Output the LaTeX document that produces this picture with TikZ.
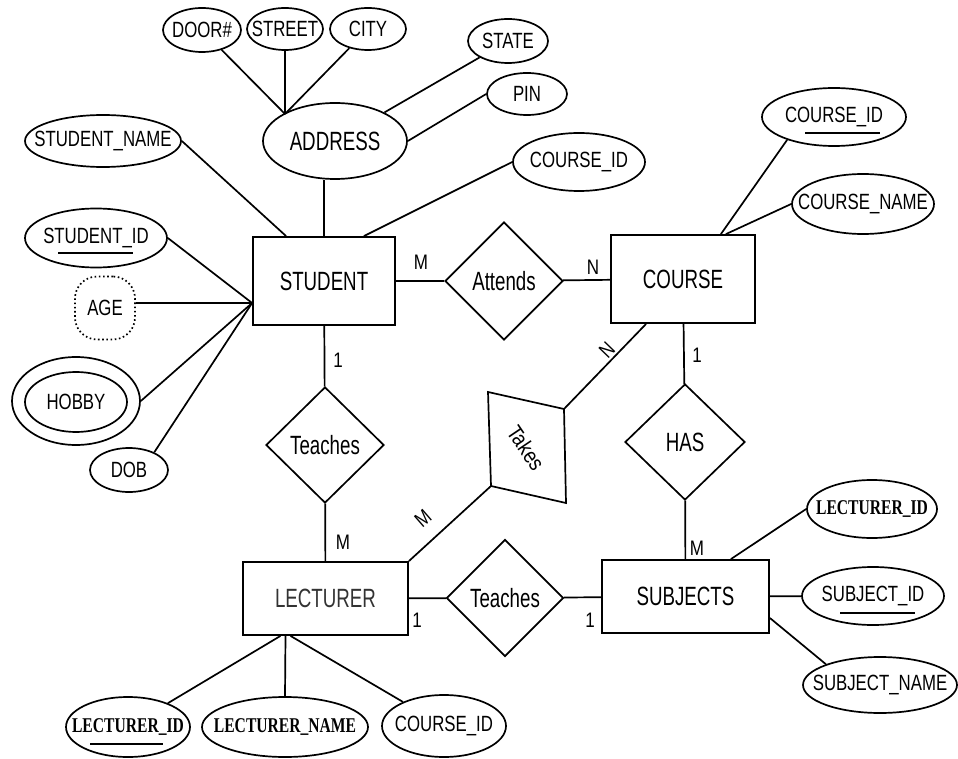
\documentclass[tikz,border=0pt]{standalone}
\usepackage{graphicx}
\usepackage{fontspec}
\setmainfont{Liberation Sans}
\newfontfamily\serifbold{Liberation Serif}
\usetikzlibrary{shapes.geometric}
\newcommand\tA[1]{\makebox[0pt]{\fontsize{21}{21}\selectfont\scalebox{0.8}[1.05]{#1}}}
\newcommand\tE[1]{\makebox[0pt]{\fontsize{24}{24}\selectfont\scalebox{0.78}[1.1]{#1}}}
\newcommand\tB[1]{\makebox[0pt]{\serifbold\bfseries\fontsize{20}{20}\selectfont\scalebox{0.78}[1.05]{#1}}}
\newcommand\tC[1]{{\fontsize{20}{20}\selectfont\scalebox{0.85}[1.05]{#1}}}
\tikzset{
  attr/.style={ellipse, draw, line width=1.7pt, inner sep=0pt},
  ent/.style={rectangle, draw, line width=1.8pt, inner sep=0pt},
  rel/.style={diamond, draw, line width=1.7pt, inner sep=0pt},
  conn/.style={line width=1.7pt},
  card/.style={inner sep=0pt},
  ul/.style={line width=2.6pt},
}
\begin{document}
\begin{tikzpicture}[x=1pt,y=-1pt]
\fill[white] (0,0) rectangle (958,759);
\useasboundingbox (0,0) rectangle (958,759);

% entities
\node[ent, minimum width=142pt, minimum height=88pt] (stu) at (324,281) {\tE{STUDENT}};
\node[ent, minimum width=165pt, minimum height=73pt] (lec) at (325.5,598.5) {\color{black!80}\tE{LECTURER}};
\node[ent, minimum width=144pt, minimum height=88pt] (crs) at (683,279) {\tE{COURSE}};
\node[ent, minimum width=167pt, minimum height=73pt] (sub) at (685.5,596.5) {\tE{SUBJECTS}};

% relationships
\node[rel, minimum width=118pt, minimum height=118pt] (att) at (504,281) {\tE{Attends}};
\node[rel, minimum width=118pt, minimum height=116pt] (tch1) at (325,445) {\tE{Teaches}};
\node[rel, minimum width=117pt, minimum height=117pt] (tch2) at (505,598) {\tE{Teaches}};
\node[rel, minimum width=120pt, minimum height=116pt] (has) at (685,442) {\tE{HAS}};

\coordinate (tTL) at (488,392);
\coordinate (tTR) at (564,409);
\coordinate (tBR) at (566,503);
\coordinate (tBL) at (491,486);
\draw[conn, line join=miter] (tTL) -- (tTR) -- (tBR) -- (tBL) -- cycle;
\node[rotate=-56, inner sep=0pt] (takes) at (526,448) {\fontsize{22}{22}\selectfont\scalebox{0.85}[1]{Takes}};

% attributes
\node[attr, minimum width=78pt, minimum height=44pt] (door) at (202,30) {\tA{DOOR\#}};
\node[attr, minimum width=76pt, minimum height=42pt] (street) at (285,29) {\tA{STREET}};
\node[attr, minimum width=76pt, minimum height=42pt] (city) at (368,29) {\tA{CITY}};
\node[attr, minimum width=80pt, minimum height=44pt] (state) at (508,41) {\tA{STATE}};
\node[attr, minimum width=80pt, minimum height=42pt] (pin) at (527,94) {\tA{PIN}};
\node[attr, minimum width=144pt, minimum height=76pt] (addr) at (335,141) {\tE{ADDRESS}};
\node[attr, minimum width=156pt, minimum height=52pt] (sname) at (103,141) {\tA{STUDENT\_NAME}};
\node[attr, minimum width=132pt, minimum height=58pt] (cid1) at (579,162) {\tA{COURSE\_ID}};
\node[attr, minimum width=142pt, minimum height=59pt] (sid) at (96,238) {\tA{STUDENT\_ID}};
\node[draw, rounded corners=22pt, minimum width=60pt, minimum height=63pt, line width=1.7pt, dash pattern=on 1.6pt off 2.6pt, inner sep=0pt] (age) at (105,308) {\tA{AGE}};
\node[attr, minimum width=128pt, minimum height=88pt] (hobby) at (76,401) {};
\node[attr, minimum width=102pt, minimum height=60pt] (hobbyin) at (76,402) {\tA{HOBBY}};
\node[attr, minimum width=78pt, minimum height=44pt] (dob) at (129,470) {\tA{DOB}};
\node[attr, minimum width=144pt, minimum height=58pt] (cid2) at (834,117) {\tA{COURSE\_ID}};
\node[attr, minimum width=142pt, minimum height=60pt] (cname) at (863,204) {\tA{COURSE\_NAME}};
\node[attr, minimum width=124pt, minimum height=60pt] (lid1) at (128,727) {\tB{LECTURER\_ID}};
\node[attr, minimum width=166pt, minimum height=60pt] (lname) at (285,727) {\tB{LECTURER\_NAME}};
\node[attr, minimum width=124pt, minimum height=62pt] (cid3) at (444,726) {\tA{COURSE\_ID}};
\node[attr, minimum width=130pt, minimum height=58pt] (lid2) at (872,509) {\tB{LECTURER\_ID}};
\node[attr, minimum width=142pt, minimum height=58pt] (subid) at (873,596) {\tA{SUBJECT\_ID}};
\node[attr, minimum width=154pt, minimum height=56pt] (subname) at (880,685) {\tA{SUBJECT\_NAME}};

% underlines of keys
\draw[ul] (58,253) -- (133,253);
\draw[ul] (805,133) -- (880,133);
\draw[ul] (840,613) -- (915,613);
\draw[ul] (90,744) -- (163,744);

% connectors: address
\coordinate (atop) at (285,114);
\draw[conn] (door) -- (atop);
\draw[conn] (street) -- (atop);
\draw[conn] (city) -- (atop);
\draw[conn] (state) -- (addr);
\draw[conn] (pin.west) -- (addr.east);
\draw[conn] (stu.north) -- (stu.north |- addr.south);

% student attributes
\draw[conn] (sname.east) -- ([xshift=34pt]stu.north west);
\draw[conn] (cid1.west) -- ([xshift=-32pt]stu.north east);
\coordinate (sconv) at ([yshift=-22pt]stu.west);
\draw[conn] (sid.east) -- (sconv);
\draw[conn] (age.east |- sconv) -- (sconv);
\draw[conn] (hobby.east) -- (sconv);
\draw[conn] (dob.35) -- (sconv);

% relationships
\draw[conn] (stu) -- (att);
\draw[conn] (att) -- (crs);
\draw[conn] (stu) -- (tch1);
\draw[conn] (tch1) -- (lec);
\draw[conn] (tTR) -- ([xshift=36pt]crs.south west);
\draw[conn] (tBL) -- (lec.north east);
\draw[conn] (crs) -- (has);
\draw[conn] (has) -- (sub);
\draw[conn] (lec) -- (tch2);
\draw[conn] (tch2) -- (sub);

% course attributes
\draw[conn] ([xshift=-35pt]crs.north east) -- (cid2.206);
\draw[conn] ([xshift=-30pt]crs.north east) -- (cname.west);

% lecturer attributes
\draw[conn] ([xshift=-45pt]lec.south) -- (lid1);
\draw[conn] ([xshift=-40pt]lec.south) -- (lname.north);
\draw[conn] ([xshift=-35pt]lec.south) -- (cid3);

% subject attributes
\draw[conn] ([xshift=-39pt]sub.north east) -- (lid2.west);
\draw[conn] (sub) -- (subid);
\draw[conn] ([yshift=-21.5pt]sub.east) -- (subname.159);

% cardinalities
\node[card] (m1) at (421,262) {\tC{M}};
\node[card] (n1) at (593,267) {\tC{N}};
\node[card] (o1) at (338,360) {\tC{1}};
\node[card] (m2) at (343,542) {\tC{M}};
\node[card] (o2) at (697,355) {\tC{1}};
\node[card] (m3) at (697,548) {\tC{M}};
\node[card] (o3) at (417,620) {\tC{1}};
\node[card] (o4) at (590,620) {\tC{1}};
\node[card, rotate=46] (n2) at (607,350) {\tC{N}};
\node[card, rotate=41] (m4) at (423,518) {\tC{M}};
\end{tikzpicture}
\end{document}
